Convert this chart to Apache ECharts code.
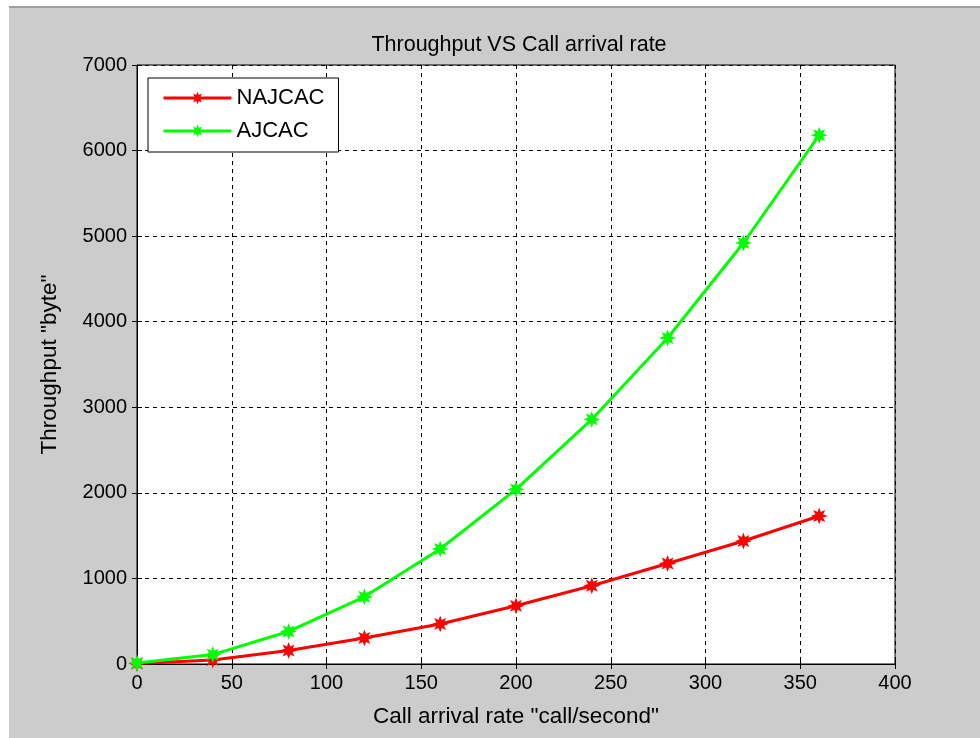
<!DOCTYPE html>
<html style="height: 100%">
<head>
  <meta charset="utf-8">
</head>
<body style="height: 100%; margin: 0; background: #fff">
  <div id="container" style="width: 980px; height: 738px"></div>
  <script type="text/javascript" src="https://cdn.jsdelivr.net/npm/echarts@6/dist/echarts.min.js"></script>
  <script type="text/javascript">
    // call arrival rate (call/second)
    var rates = [0, 40, 80, 120, 160, 200, 240, 280, 320, 360];
    // throughput in bytes
    var najcac = [5, 47, 158, 304, 467, 680, 915, 1175, 1437, 1730];
    var ajcac = [12, 110, 380, 785, 1344, 2040, 2858, 3810, 4920, 6180];

    var seriesNames = ['NAJCAC', 'AJCAC'];
    var seriesColors = ['#ff0000', '#00ff00'];

    function pairs(xs, ys) {
      return xs.map(function (x, i) { return [x, ys[i]]; });
    }

    // 8 point star, roughly like the MATLAB '*' marker drawn thick
    function starPath() {
      var pts = [];
      for (var i = 0; i < 16; i++) {
        var a = Math.PI * i / 8;
        var r = i % 2 === 0 ? 10 : 5;
        pts.push((r * Math.cos(a)).toFixed(2) + ',' + (r * Math.sin(a)).toFixed(2));
      }
      return 'path://M' + pts.join(' L') + ' Z';
    }
    var star = starPath();

    var font = 'Liberation Sans, Arial, sans-serif';
    var dom = document.getElementById('container');
    var myChart = echarts.init(dom);

    var option = {
      backgroundColor: '#cccccc',
      animation: false,
      title: {
        text: 'Throughput VS Call arrival rate',
        left: 514,
        textAlign: 'center',
        top: 29,
        textStyle: { fontFamily: font, fontWeight: 'normal', fontSize: 21.5, color: '#000' }
      },
      graphic: [
        { type: 'rect', shape: { x: 0, y: 0, width: 980, height: 6 }, style: { fill: '#ffffff' }, silent: true },
        { type: 'rect', shape: { x: 0, y: 6, width: 980, height: 2 }, style: { fill: '#a0a0a0' }, silent: true },
        { type: 'rect', shape: { x: 0, y: 0, width: 9, height: 738 }, style: { fill: '#ffffff' }, silent: true }
      ],
      legend: {
        orient: 'vertical',
        left: 148,
        top: 78,
        padding: [9, 14, 10, 14],
        itemGap: 11,
        itemWidth: 68,
        itemHeight: 16,
        backgroundColor: '#ffffff',
        borderColor: '#000',
        borderWidth: 1,
        borderRadius: 0,
        lineStyle: { width: 3 },
        textStyle: { fontFamily: font, fontSize: 22, color: '#000' },
        data: seriesNames
      },
      grid: {
        left: 137,
        right: 85,
        top: 65,
        bottom: 74,
        show: true,
        backgroundColor: '#ffffff',
        borderColor: '#000',
        borderWidth: 1
      },
      xAxis: [{
        type: 'value',
        min: 0,
        max: 400,
        interval: 50,
        name: 'Call arrival rate "call/second"',
        nameLocation: 'middle',
        nameGap: 41,
        nameTextStyle: { fontFamily: font, fontSize: 22.5, color: '#000' },
        axisLine: { lineStyle: { color: '#000', width: 1 } },
        axisTick: { inside: true, length: 5, lineStyle: { color: '#000' } },
        axisLabel: { fontFamily: font, fontSize: 20, color: '#000', margin: 9 },
        splitLine: { show: true, lineStyle: { color: '#000', type: [4, 4], width: 1 } }
      }, {
        type: 'value',
        position: 'top',
        min: 0,
        max: 400,
        interval: 50,
        axisLine: { lineStyle: { color: '#000', width: 1 } },
        axisTick: { inside: true, length: 5, lineStyle: { color: '#000' } },
        axisLabel: { show: false },
        splitLine: { show: false }
      }],
      yAxis: [{
        type: 'value',
        min: 0,
        max: 7000,
        interval: 1000,
        name: 'Throughput "byte"',
        nameLocation: 'middle',
        nameGap: 76,
        nameRotate: 90,
        nameTextStyle: { fontFamily: font, fontSize: 22.5, color: '#000' },
        axisLine: { show: true, lineStyle: { color: '#000', width: 1 } },
        axisTick: { show: true, inside: true, length: 5, lineStyle: { color: '#000' } },
        axisLabel: {
          fontFamily: font, fontSize: 20, color: '#000', margin: 10,
          formatter: function (v) { return String(v); }
        },
        splitLine: { show: true, lineStyle: { color: '#000', type: [4, 4], width: 1 } }
      }, {
        type: 'value',
        position: 'right',
        min: 0,
        max: 7000,
        interval: 1000,
        axisLine: { show: true, lineStyle: { color: '#000', width: 1 } },
        axisTick: { show: true, inside: true, length: 5, lineStyle: { color: '#000' } },
        axisLabel: { show: false },
        splitLine: { show: false }
      }],
      series: [{
        name: seriesNames[0],
        type: 'line',
        data: pairs(rates, najcac),
        symbol: star,
        symbolSize: 17,
        color: seriesColors[0],
        lineStyle: { width: 3, color: seriesColors[0] },
        itemStyle: { color: seriesColors[0] }
      }, {
        name: seriesNames[1],
        type: 'line',
        data: pairs(rates, ajcac),
        symbol: star,
        symbolSize: 17,
        color: seriesColors[1],
        lineStyle: { width: 3, color: seriesColors[1] },
        itemStyle: { color: seriesColors[1] }
      }]
    };

    myChart.setOption(option);
  </script>
</body>
</html>
